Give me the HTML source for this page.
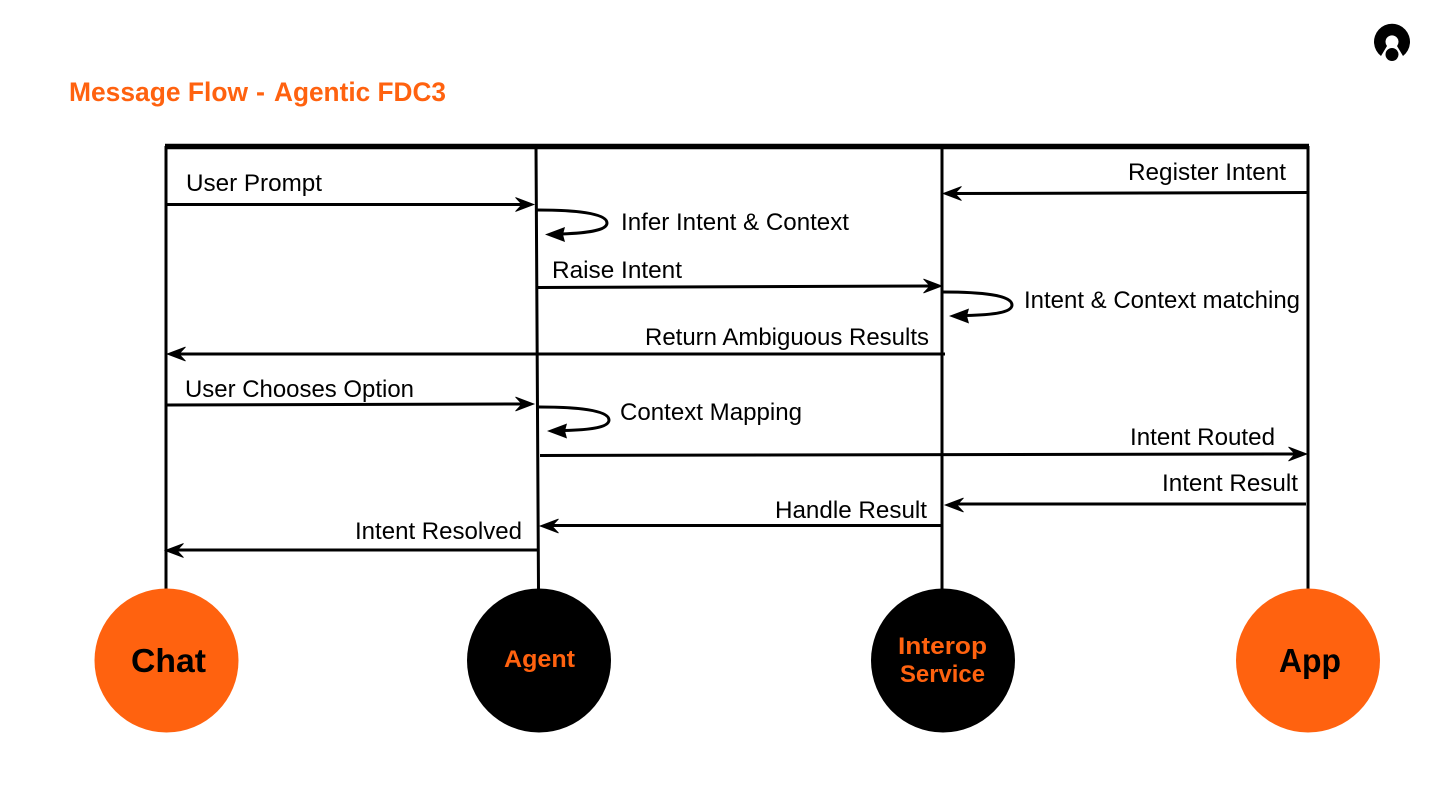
<!DOCTYPE html>
<html><head><meta charset="utf-8"><style>
html,body{margin:0;padding:0;background:#fff;width:1440px;height:810px;overflow:hidden}
svg{display:block}
text{font-family:"Liberation Sans",sans-serif}
.l{font-size:24px;fill:#000}
.b{font-weight:bold}
.o{fill:#ff620f}
.s{stroke:#000;stroke-width:3;fill:none}
</style></head><body>
<svg width="1440" height="810" viewBox="0 0 1440 810" xmlns="http://www.w3.org/2000/svg">
<defs>
<path id="r" d="M0 0L-18.500 -7L-12 0L-18.500 7Z" fill="#000" stroke="#000" stroke-width="0.800"/>
<path id="c" d="M0 0L18.500 -7L12 0L18.500 7Z" fill="#000" stroke="#000" stroke-width="0.800"/>
<path id="cs" d="M0 0L20 -7.500L18 0L20 7.500Z" fill="#000"/>
</defs>
<text x="69" y="101" class="b o" font-size="27" textLength="179" lengthAdjust="spacingAndGlyphs">Message Flow</text>
<text x="256" y="101" class="b o" font-size="27" textLength="9" lengthAdjust="spacingAndGlyphs">-</text>
<text x="274" y="101" class="b o" font-size="27" textLength="172" lengthAdjust="spacingAndGlyphs">Agentic FDC3</text>
<!-- logo -->
<path d="M1381 56A18 18 0 1 1 1403 56L1397 46A6.500 6.500 0 1 0 1387 46Z" fill="#000"/>
<circle cx="1392" cy="54.500" r="7" fill="#000" stroke="#fff" stroke-width="1"/>
<!-- lifelines -->
<path d="M165 146.500H1309" stroke="#000" stroke-width="5.500" fill="none"/>
<path class="s" d="M166 146V590M536 146L538.500 590M942 146V590M1308 146V590"/>
<!-- messages -->
<path class="s" d="M166 204.500H524"/><use href="#r" x="534" y="204.500"/>
<path class="s" d="M1308 192.500L953 193.500"/><use href="#c" x="943" y="193.500"/>
<path class="s" d="M538 287.500L932 286"/><use href="#r" x="942" y="286"/>
<path class="s" d="M945 354H177"/><use href="#c" x="167" y="354"/>
<path class="s" d="M166 405L524 404"/><use href="#r" x="534" y="404"/>
<path class="s" d="M540 455.500L1297 454"/><use href="#r" x="1307" y="454"/>
<path class="s" d="M1306 504H955"/><use href="#c" x="945" y="505"/>
<path class="s" d="M942 525.500H550"/><use href="#c" x="540" y="526"/>
<path class="s" d="M538 550H175"/><use href="#c" x="165" y="550.500"/>
<!-- self loops -->
<path class="s" d="M537 210C575 210 607 213 607 223C607 231 585 233 562 234"/><use href="#cs" x="545" y="234.500"/>
<path class="s" d="M943 292C981 292 1012 295 1012 305C1012 313 990 315 966 315.500"/><use href="#cs" x="949" y="316"/>
<path class="s" d="M539 407C577 407 609 410 609 420C609 428 587 430 564 430.500"/><use href="#cs" x="547" y="431"/>
<!-- labels -->
<text class="l" x="186" y="191" textLength="136" lengthAdjust="spacingAndGlyphs">User Prompt</text>
<text class="l" x="1128" y="180" textLength="158" lengthAdjust="spacingAndGlyphs">Register Intent</text>
<text class="l" x="621" y="230" textLength="228" lengthAdjust="spacingAndGlyphs">Infer Intent &amp; Context</text>
<text class="l" x="552" y="278" textLength="130" lengthAdjust="spacingAndGlyphs">Raise Intent</text>
<text class="l" x="1024" y="308" textLength="276" lengthAdjust="spacingAndGlyphs">Intent &amp; Context matching</text>
<text class="l" x="645" y="345" textLength="284" lengthAdjust="spacingAndGlyphs">Return Ambiguous Results</text>
<text class="l" x="185" y="397" textLength="229" lengthAdjust="spacingAndGlyphs">User Chooses Option</text>
<text class="l" x="620" y="420" textLength="182" lengthAdjust="spacingAndGlyphs">Context Mapping</text>
<text class="l" x="1130" y="445" textLength="145" lengthAdjust="spacingAndGlyphs">Intent Routed</text>
<text class="l" x="1162" y="491" textLength="136" lengthAdjust="spacingAndGlyphs">Intent Result</text>
<text class="l" x="775" y="518" textLength="152" lengthAdjust="spacingAndGlyphs">Handle Result</text>
<text class="l" x="355" y="539" textLength="167" lengthAdjust="spacingAndGlyphs">Intent Resolved</text>
<!-- actors -->
<circle cx="166.500" cy="660.500" r="72" class="o"/>
<circle cx="539" cy="660.500" r="72" fill="#000"/>
<circle cx="943" cy="660.500" r="72" fill="#000"/>
<circle cx="1308" cy="660.500" r="72" class="o"/>
<text x="131" y="672" class="b" font-size="33" textLength="75" lengthAdjust="spacingAndGlyphs" fill="#000">Chat</text>
<text x="504" y="667" class="b o" font-size="24" textLength="71" lengthAdjust="spacingAndGlyphs">Agent</text>
<text x="898" y="654" class="b o" font-size="24" textLength="89" lengthAdjust="spacingAndGlyphs">Interop</text>
<text x="900" y="682" class="b o" font-size="24" textLength="85" lengthAdjust="spacingAndGlyphs">Service</text>
<text x="1279" y="672" class="b" font-size="33" textLength="62" lengthAdjust="spacingAndGlyphs" fill="#000">App</text>
</svg>
</body></html>
